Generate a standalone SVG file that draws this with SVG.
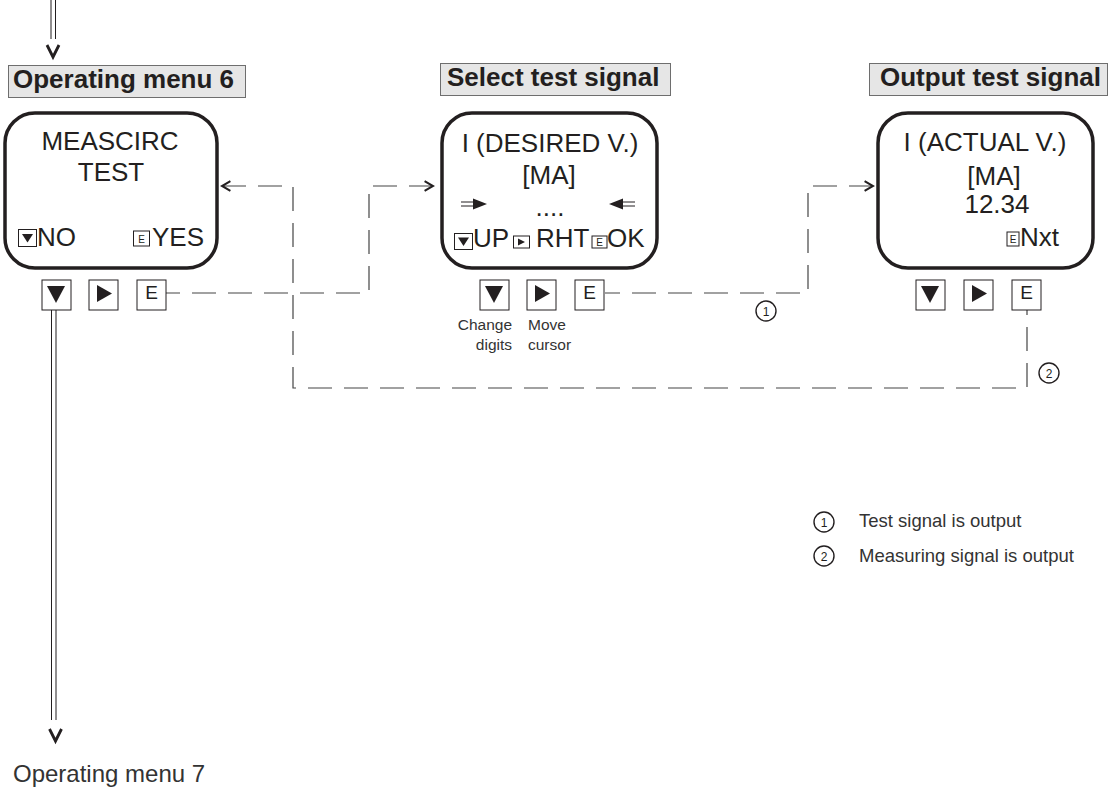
<svg xmlns="http://www.w3.org/2000/svg" width="1109" height="791" viewBox="0 0 1109 791">
<style>
.bg{fill:#ffffff}
.hdr{fill:#e6e6e6;stroke:#6e6e6e;stroke-width:1}
.ht{font-family:"Liberation Sans",Arial,sans-serif;font-weight:bold;font-size:26px;fill:#231f20}
.disp{fill:#ffffff;stroke:#231f20;stroke-width:3.5}
.dt{font-family:"Liberation Sans",Arial,sans-serif;font-size:26px;fill:#231f20}
.mid{text-anchor:middle}
.ind{fill:#ffffff;stroke:#231f20;stroke-width:1}
.it{font-family:"Liberation Sans",Arial,sans-serif;font-size:10px;fill:#231f20;text-anchor:middle}
.btn{fill:#ffffff;stroke:#231f20;stroke-width:1}
.bt{font-family:"Liberation Sans",Arial,sans-serif;font-size:19px;fill:#231f20;text-anchor:middle}
.tri{fill:#231f20}
.conn{fill:none;stroke:#454545;stroke-width:1.2;stroke-dasharray:24 12}
.flow{fill:none;stroke:#231f20;stroke-width:1}
.chev{fill:none;stroke:#231f20;stroke-width:2.8}
.num{fill:#ffffff;stroke:#231f20;stroke-width:1.4}
.nt{font-family:"Liberation Sans",Arial,sans-serif;font-size:12px;fill:#231f20;text-anchor:middle}
.lab{font-family:"Liberation Sans",Arial,sans-serif;font-size:15.5px;fill:#333333}
.leg{font-family:"Liberation Sans",Arial,sans-serif;font-size:18.5px;fill:#333333}
.foot{font-family:"Liberation Sans",Arial,sans-serif;font-size:24px;fill:#333333}
</style>
<defs>
<marker id="chevron" markerUnits="userSpaceOnUse" markerWidth="12" markerHeight="12" refX="8" refY="5" orient="auto-start-reverse" viewBox="0 0 10 10">
<path d="M1,1 L8,5 L1,9" fill="none" stroke="#231f20" stroke-width="1.7"/>
</marker>
<g id="btnDown"><rect class="btn" x="0" y="0" width="29" height="30"/><polygon class="tri" points="5,6 23,6 14,23"/></g>
<g id="btnRight"><rect class="btn" x="0" y="0" width="29" height="30"/><polygon class="tri" points="8,5 8,22 23,13.5"/></g>
<g id="btnE"><rect class="btn" x="0" y="0" width="29" height="30"/><text class="bt" x="14.5" y="19">E</text></g>
</defs>
<rect class="bg" x="0" y="0" width="1109" height="791"/>

<g id="connectors">
<path class="conn" d="M433,186 H369 V293 H166" marker-start="url(#chevron)"/>
<path class="conn" d="M873,186 H808 V293 H605" marker-start="url(#chevron)"/>
<path class="conn" d="M222,186 H293 V388 H1027 V310" marker-start="url(#chevron)"/>
<g id="flow-in">
<line class="flow" x1="51" y1="0" x2="51" y2="39"/>
<line class="flow" x1="55.5" y1="0" x2="55.5" y2="39"/>
<polyline class="chev" points="47,45 53,57 59,45"/>
</g>
<g id="flow-out">
<line class="flow" x1="51.5" y1="310" x2="51.5" y2="720"/>
<line class="flow" x1="56" y1="310" x2="56" y2="720"/>
<polyline class="chev" points="49.5,729 55.5,741 61.5,729"/>
</g>
<g id="marker-1">
<circle class="num" cx="766" cy="311" r="10"/>
<text class="nt" x="766" y="315.5">1</text>
</g>
<g id="marker-2">
<circle class="num" cx="1049" cy="373" r="10"/>
<text class="nt" x="1049" y="377.5">2</text>
</g>
</g>

<g id="header-operating-menu-6">
<rect class="hdr" x="8.5" y="65.5" width="237" height="32"/>
<text class="ht" x="13" y="88">Operating menu 6</text>
</g>
<g id="header-select-test-signal">
<rect class="hdr" x="440.5" y="63.5" width="230" height="32"/>
<text class="ht" x="447" y="86">Select test signal</text>
</g>
<g id="header-output-test-signal">
<rect class="hdr" x="869.5" y="63.5" width="238" height="32"/>
<text class="ht" x="880" y="86">Output test signal</text>
</g>

<g id="display-meascirc">
<rect class="disp" x="5" y="113" width="212" height="155" rx="30" ry="30"/>
<text class="dt mid" x="110" y="150">MEASCIRC</text>
<text class="dt mid" x="111" y="181">TEST</text>
<rect class="ind" x="18.5" y="229.5" width="18" height="17"/>
<polygon class="tri" points="22,234 33,234 27.5,242.5"/>
<text class="dt" x="37" y="246">NO</text>
<rect class="ind" x="133.5" y="231" width="16" height="15"/>
<text class="it" x="141.5" y="242.5">E</text>
<text class="dt" x="152" y="246">YES</text>
</g>
<g id="buttons-1">
<use href="#btnDown" x="42" y="280"/>
<use href="#btnRight" x="89" y="280"/>
<use href="#btnE" x="137" y="280"/>
</g>

<g id="display-desired">
<rect class="disp" x="442" y="113" width="215" height="155" rx="30" ry="30"/>
<text class="dt mid" x="550" y="152">I (DESIRED V.)</text>
<text class="dt mid" x="549" y="184">[MA]</text>
<line class="flow" x1="461" y1="202" x2="476" y2="202" stroke-width="1.5"/>
<line class="flow" x1="461" y1="206" x2="476" y2="206" stroke-width="1.5"/>
<polygon class="tri" points="473,198.5 473,209.5 487,204"/>
<text class="dt mid" x="550" y="216">....</text>
<line class="flow" x1="620" y1="202" x2="635" y2="202" stroke-width="1.5"/>
<line class="flow" x1="620" y1="206" x2="635" y2="206" stroke-width="1.5"/>
<polygon class="tri" points="623,198.5 623,209.5 609,204"/>
<rect class="ind" x="454.5" y="233.5" width="18" height="16"/>
<polygon class="tri" points="458,237.5 469,237.5 463.5,246"/>
<text class="dt" x="473" y="247">UP</text>
<rect class="ind" x="513.5" y="236" width="16" height="12"/>
<polygon class="tri" points="518,238.5 518,245.5 525,242"/>
<text class="dt" x="536" y="247">RHT</text>
<rect class="ind" x="592" y="236" width="15" height="12"/>
<text class="it" x="599.5" y="245.5">E</text>
<text class="dt" x="607" y="247">OK</text>
</g>
<g id="buttons-2">
<use href="#btnDown" x="480" y="280"/>
<use href="#btnRight" x="527" y="280"/>
<use href="#btnE" x="575" y="280"/>
<text class="lab" x="512" y="330" text-anchor="end">Change</text>
<text class="lab" x="512" y="350" text-anchor="end">digits</text>
<text class="lab" x="528" y="330">Move</text>
<text class="lab" x="528" y="350">cursor</text>
</g>

<g id="display-actual">
<rect class="disp" x="878" y="113" width="215" height="155" rx="30" ry="30"/>
<text class="dt mid" x="985" y="151">I (ACTUAL V.)</text>
<text class="dt mid" x="994" y="185">[MA]</text>
<text class="dt mid" x="997" y="213">12.34</text>
<rect class="ind" x="1007" y="232" width="12" height="14"/>
<text class="it" x="1013" y="243">E</text>
<text class="dt" x="1020" y="246">Nxt</text>
</g>
<g id="buttons-3">
<use href="#btnDown" x="916" y="280"/>
<use href="#btnRight" x="964" y="280"/>
<use href="#btnE" x="1012" y="280"/>
</g>

<g id="legend">
<circle class="num" cx="824" cy="522" r="10"/>
<text class="nt" x="824" y="526.5">1</text>
<text class="leg" x="859" y="527">Test signal is output</text>
<circle class="num" cx="824" cy="556" r="10"/>
<text class="nt" x="824" y="560.5">2</text>
<text class="leg" x="859" y="562">Measuring signal is output</text>
</g>

<g id="operating-menu-7">
<text class="foot" x="13" y="782">Operating menu 7</text>
</g>
</svg>
